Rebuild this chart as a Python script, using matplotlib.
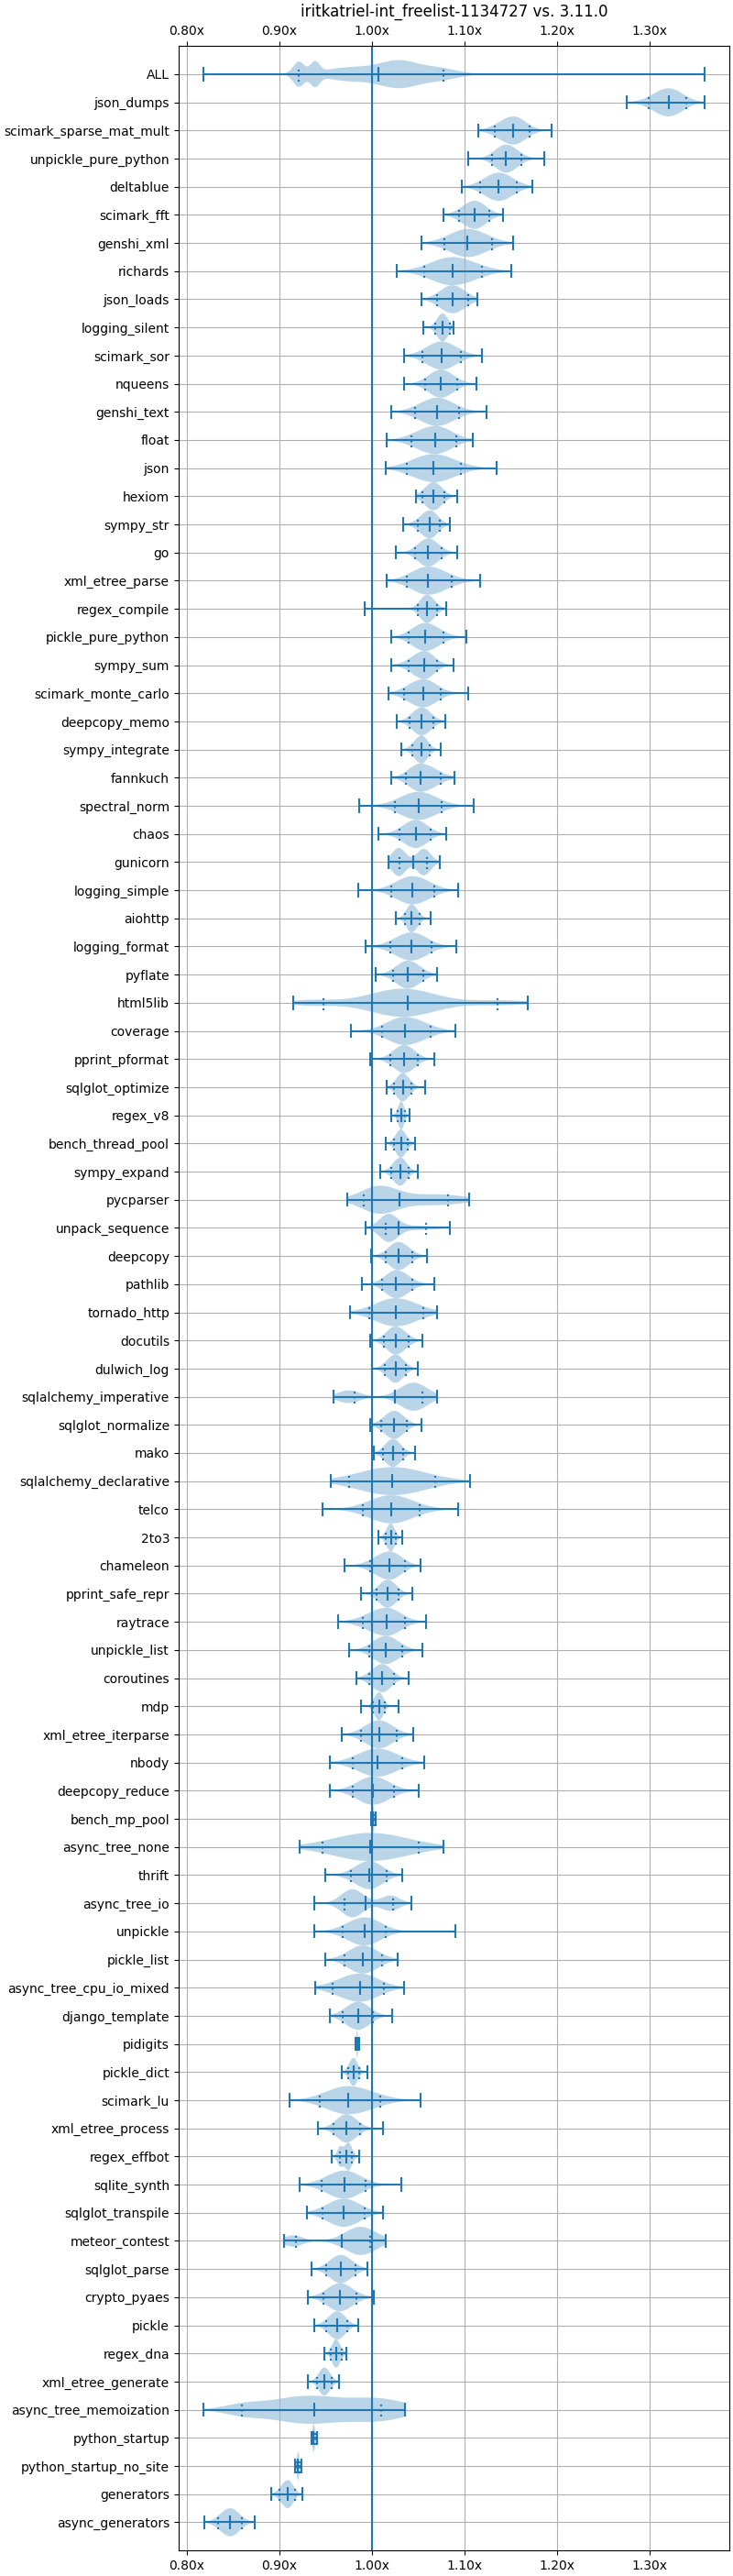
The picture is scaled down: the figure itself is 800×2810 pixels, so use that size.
import matplotlib.pyplot as plt
import numpy as np

title = "iritkatriel-int_freelist-1134727 vs. 3.11.0"

benchmarks = [
    "ALL", "json_dumps", "scimark_sparse_mat_mult", "unpickle_pure_python",
    "deltablue", "scimark_fft", "genshi_xml", "richards", "json_loads",
    "logging_silent", "scimark_sor", "nqueens", "genshi_text", "float", "json",
    "hexiom", "sympy_str", "go", "xml_etree_parse", "regex_compile",
    "pickle_pure_python", "sympy_sum", "scimark_monte_carlo", "deepcopy_memo",
    "sympy_integrate", "fannkuch", "spectral_norm", "chaos", "gunicorn",
    "logging_simple", "aiohttp", "logging_format", "pyflate", "html5lib",
    "coverage", "pprint_pformat", "sqlglot_optimize", "regex_v8",
    "bench_thread_pool", "sympy_expand", "pycparser", "unpack_sequence",
    "deepcopy", "pathlib", "tornado_http", "docutils", "dulwich_log",
    "sqlalchemy_imperative", "sqlglot_normalize", "mako",
    "sqlalchemy_declarative", "telco", "2to3", "chameleon", "pprint_safe_repr",
    "raytrace", "unpickle_list", "coroutines", "mdp", "xml_etree_iterparse",
    "nbody", "deepcopy_reduce", "bench_mp_pool", "async_tree_none", "thrift",
    "async_tree_io", "unpickle", "pickle_list", "async_tree_cpu_io_mixed",
    "django_template", "pidigits", "pickle_dict", "scimark_lu",
    "xml_etree_process", "regex_effbot", "sqlite_synth", "sqlglot_transpile",
    "meteor_contest", "sqlglot_parse", "crypto_pyaes", "pickle", "regex_dna",
    "xml_etree_generate", "async_tree_memoization", "python_startup",
    "python_startup_no_site", "generators", "async_generators",
]

mins = [
    0.818, 1.275, 1.115, 1.1045, 1.097, 1.077, 1.0535, 1.027, 1.0535,
    1.0556, 1.0349, 1.0349, 1.0204, 1.0157, 1.0149, 1.0474, 1.0337, 1.0263,
    1.0157, 0.9922, 1.0212, 1.0204, 1.018, 1.0266, 1.0317, 1.0204, 0.9863,
    1.0074, 1.018, 0.9851, 1.0259, 0.993, 1.0039, 0.915, 0.9773, 0.9984,
    1.0157, 1.0208, 1.0149, 1.0094, 0.9734, 0.993, 0.9992, 0.989, 0.9765,
    0.9984, 1.0004, 0.9585, 0.9984, 1.0016, 0.9553, 0.9467, 1.0074, 0.9702,
    0.9882, 0.9636, 0.9753, 0.9832, 0.9882, 0.9675, 0.9549, 0.9549, 0.9992,
    0.922, 0.9495, 0.9377, 0.9377, 0.9495, 0.9385, 0.9549, 0.982, 0.9675,
    0.9107, 0.942, 0.9565, 0.9216, 0.9295, 0.9048, 0.9345, 0.9308, 0.9379,
    0.949, 0.9308, 0.8182, 0.9343, 0.9172, 0.8914, 0.8192,
]
q10 = [
    0.9207, 1.2995, 1.133, 1.130, 1.117, 1.094, 1.078, 1.057, 1.070,
    1.0686, 1.0545, 1.0576, 1.0466, 1.0427, 1.0376, 1.0545, 1.0494, 1.0466,
    1.0376, 1.0498, 1.0396, 1.0396, 1.0349, 1.0408, 1.0435, 1.0364, 1.0247,
    1.0298, 1.0298, 1.0212, 1.0357, 1.020, 1.0227, 0.9475, 1.011, 1.020,
    1.0243, 1.0274, 1.0239, 1.0208, 0.991, 1.0149, 1.0149, 1.011, 0.9973,
    1.0129, 1.0137, 0.9812, 1.0102, 1.0118, 0.9757, 0.9902, 1.0145, 0.9984,
    1.0047, 0.9902, 0.9973, 0.9969, 1.0012, 0.9882, 0.9792, 0.9792, 0.9998,
    0.9467, 0.9773, 0.9702, 0.9683, 0.9702, 0.9573, 0.9683, 0.9828, 0.9741,
    0.944, 0.9585, 0.9655, 0.9459, 0.9467, 0.9177, 0.951, 0.948, 0.9505,
    0.9556, 0.9409, 0.8596, 0.9352, 0.9185, 0.900, 0.8333,
]
medians = [
    1.0066, 1.3207, 1.153, 1.145, 1.137, 1.111, 1.1035, 1.087, 1.087,
    1.0764, 1.0752, 1.0745, 1.0705, 1.0686, 1.0666, 1.0666, 1.0627, 1.0607,
    1.0607, 1.0596, 1.0576, 1.0568, 1.0556, 1.0537, 1.0537, 1.0525, 1.0505,
    1.0474, 1.0447, 1.0439, 1.0427, 1.0427, 1.0388, 1.0388, 1.0357, 1.0349,
    1.0333, 1.0317, 1.0313, 1.0306, 1.0298, 1.0286, 1.0286, 1.0263, 1.0255,
    1.0255, 1.0255, 1.0247, 1.0243, 1.0227, 1.0223, 1.0208, 1.0204, 1.0192,
    1.0168, 1.0161, 1.0149, 1.0114, 1.0078, 1.0078, 1.0059, 1.0012, 1.0008,
    0.9984, 0.9973, 0.993, 0.9922, 0.9902, 0.9871, 0.9851, 0.984, 0.980,
    0.9741, 0.9722, 0.9722, 0.9702, 0.9694, 0.9675, 0.9662, 0.9652, 0.9626,
    0.9611, 0.9485, 0.9379, 0.9369, 0.9202, 0.9091, 0.847,
]
q90 = [
    1.0773, 1.340, 1.170, 1.161, 1.157, 1.127, 1.130, 1.119, 1.1045,
    1.0839, 1.0964, 1.0921, 1.094, 1.0913, 1.0964, 1.0784, 1.0737, 1.0752,
    1.0866, 1.0701, 1.0772, 1.0705, 1.0745, 1.0666, 1.0623, 1.0741, 1.0756,
    1.0635, 1.0592, 1.0674, 1.0513, 1.0643, 1.0556, 1.136, 1.0635, 1.0494,
    1.0427, 1.0357, 1.0388, 1.0396, 1.0823, 1.0584, 1.0435, 1.0435, 1.0556,
    1.0396, 1.0368, 1.0545, 1.0376, 1.0337, 1.0686, 1.0517, 1.0259, 1.0357,
    1.029, 1.0357, 1.0329, 1.0239, 1.0137, 1.0266, 1.0329, 1.0239, 1.003,
    1.0505, 1.0157, 1.0227, 1.0149, 1.011, 1.0129, 1.0012, 0.985, 0.9859,
    1.009, 0.9871, 0.9781, 0.993, 0.9922, 0.998, 0.982, 0.9833, 0.9737,
    0.9672, 0.9566, 1.0101, 0.939, 0.922, 0.9167, 0.8596,
]
maxs = [
    1.359, 1.359, 1.194, 1.186, 1.173, 1.142, 1.153, 1.151, 1.114,
    1.0886, 1.1191, 1.1129, 1.1238, 1.1089, 1.1348, 1.0921, 1.0846, 1.0921,
    1.1172, 1.0803, 1.1023, 1.0882, 1.1042, 1.0792, 1.0745, 1.0893, 1.1101,
    1.0803, 1.0733, 1.0933, 1.0635, 1.0913, 1.0701, 1.1685, 1.0901, 1.0674,
    1.0576, 1.0411, 1.0462, 1.0498, 1.105, 1.0846, 1.0596, 1.0674, 1.0705,
    1.0545, 1.0494, 1.0705, 1.0537, 1.0466, 1.1062, 1.0933, 1.0329, 1.0525,
    1.0435, 1.0584, 1.0545, 1.040, 1.0286, 1.0447, 1.0564, 1.0505, 1.0039,
    1.0772, 1.0329, 1.0427, 1.0901, 1.0278, 1.0349, 1.0219, 0.9859, 0.9949,
    1.0529, 1.0118, 0.9859, 1.0317, 1.0118, 1.0149, 0.995, 1.002, 0.9848,
    0.9727, 0.9646, 1.0354, 0.941, 0.9242, 0.9253, 0.8732,
]

# violins that are not a single bell: (centre, spread, relative height)
modes = {
    "ALL": [(0.87, 0.03, 0.03), (0.921, 0.006, 0.72), (0.9385, 0.005, 0.65),
            (0.975, 0.025, 0.4), (1.03, 0.022, 0.8), (1.075, 0.018, 0.3),
            (1.2, 0.08, 0.03)],
    "html5lib": [(0.935, 0.025, 0.2), (1.033, 0.035, 1.0), (1.14, 0.03, 0.17)],
    "gunicorn": [(1.029, 0.0075, 1.0), (1.056, 0.0075, 0.95)],
    "pycparser": [(1.008, 0.02, 1.0), (1.07, 0.03, 0.4)],
    "unpack_sequence": [(1.018, 0.01, 1.0), (1.05, 0.02, 0.15)],
    "sqlalchemy_imperative": [(0.975, 0.012, 0.45), (1.045, 0.015, 1.0)],
    "async_tree_io": [(0.979, 0.012, 1.0), (1.02, 0.01, 0.55)],
    "meteor_contest": [(0.915, 0.01, 0.4), (0.988, 0.017, 1.0)],
    "regex_effbot": [(0.9655, 0.003, 0.65), (0.9745, 0.004, 1.0)],
    "async_tree_memoization": [(0.86, 0.02, 0.3), (0.93, 0.04, 1.0),
                               (1.01, 0.03, 0.7)],
}


def outline(i, x):
    name = benchmarks[i]
    if name in modes:
        y = np.zeros_like(x)
        for c, s, h in modes[name]:
            y += h * np.exp(-0.5 * ((x - c) / s) ** 2)
        return y
    med = medians[i]
    sl = (med - q10[i]) / 1.2816
    sr = (q90[i] - med) / 1.2816
    s = np.where(x < med, sl, sr)
    return np.exp(-0.5 * ((x - med) / s) ** 2)


stats = []
for i in range(len(benchmarks)):
    coords = np.linspace(mins[i], maxs[i], 400)
    stats.append({
        "coords": coords,
        "vals": outline(i, coords),
        "mean": medians[i],
        "median": medians[i],
        "min": mins[i],
        "max": maxs[i],
        "quantiles": [q10[i], q90[i]],
    })

fig, ax = plt.subplots(figsize=(8, 2 + (len(benchmarks) - 1) * 0.3),
                       layout="constrained")
ax.axvline(1.0)
positions = np.arange(len(benchmarks), 0, -1)
parts = ax.violin(stats, positions=positions, orientation="horizontal",
                  widths=1.0, showmedians=True)
parts["cquantiles"].set_linestyle(":")

ax.set_yticks(positions, benchmarks)
ax.set_ylim(0, len(benchmarks) + 1)
ax.xaxis.set_major_formatter("{x:.2f}x")
ax.tick_params(axis="x", top=True, labeltop=True)
ax.grid()
ax.set_title(title)

fig.savefig("out.png", dpi=100)
